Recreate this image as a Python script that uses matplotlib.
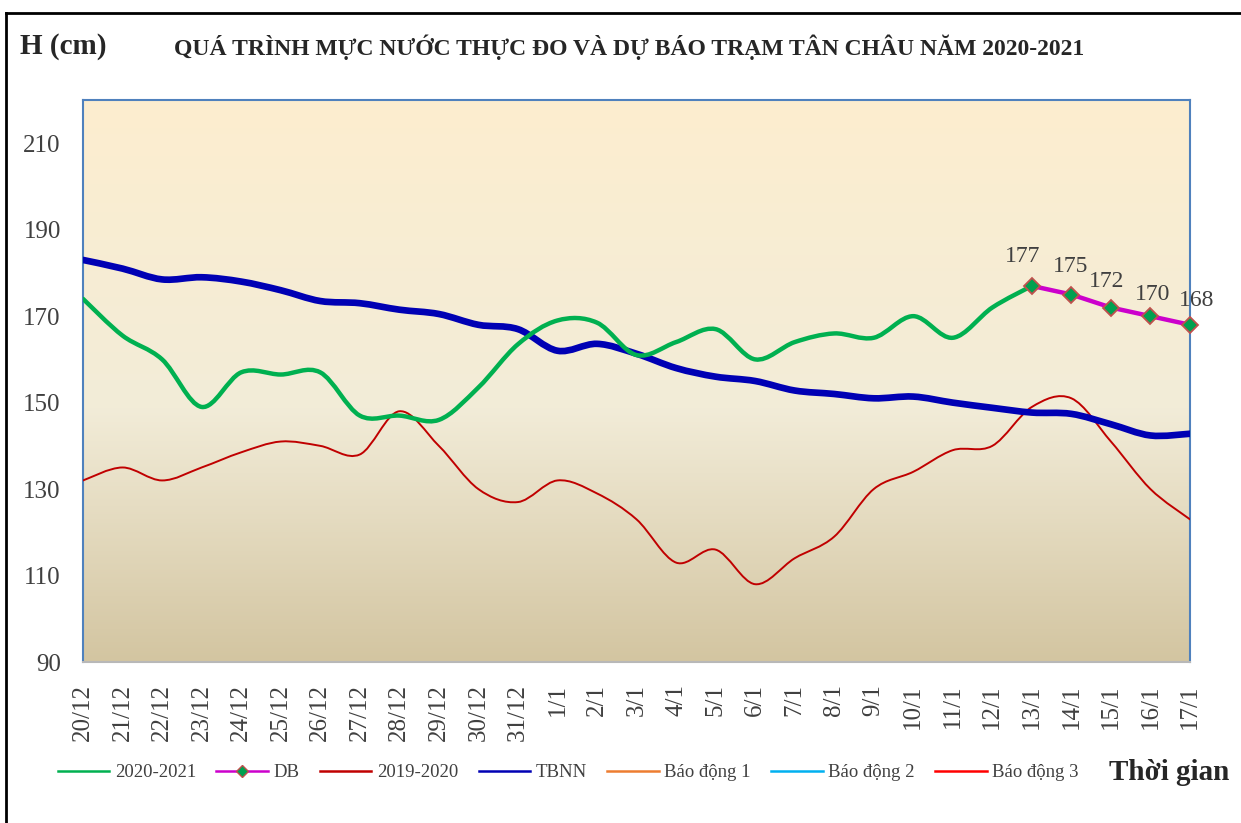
import numpy as np
import matplotlib

matplotlib.use("Agg")
import matplotlib.pyplot as plt
from matplotlib.path import Path
from matplotlib.patches import PathPatch
from matplotlib.lines import Line2D
from matplotlib.colors import LinearSegmentedColormap

plt.rcParams["font.family"] = ["Liberation Serif", "DejaVu Serif"]

DATES = ["20/12", "21/12", "22/12", "23/12", "24/12", "25/12", "26/12", "27/12",
         "28/12", "29/12", "30/12", "31/12", "1/1", "2/1", "3/1", "4/1", "5/1",
         "6/1", "7/1", "8/1", "9/1", "10/1", "11/1", "12/1", "13/1", "14/1",
         "15/1", "16/1", "17/1"]

# measured 2020-2021 (20/12 .. 13/1)
H_2021 = [174, 165.5, 160, 149, 157, 156.5, 157, 147, 147, 146, 153.5, 163.5, 169,
          168.5, 161, 164, 167, 160, 164, 166, 165, 170, 165, 172, 177]
# forecast 13/1 .. 17/1
DB = [177, 175, 172, 170, 168]
H_2020 = [132, 135, 132, 135, 138.5, 141, 140, 138, 148, 140, 130, 127, 132, 129,
          123, 113, 116, 108, 114, 119, 130, 134, 139, 140, 149, 151, 141, 130, 123]
TBNN = [183, 181, 178.5, 179, 178, 176, 173.5, 173, 171.5, 170.5, 168, 167, 162,
        163.6, 161.3, 158, 156, 155, 152.8, 152, 151, 151.4, 150, 148.8, 147.7,
        147.4, 145, 142.4, 142.8]
# alarm levels (off the visible range)
ALERTS = [350, 400, 450]
Y_TICKS = [90, 110, 130, 150, 170, 190, 210]


def smooth_path(xs, ys):
    """Excel-like smoothed line: cubic Bezier through every point."""
    pts = np.column_stack([xs, ys]).astype(float)
    n = len(pts)
    verts = [pts[0]]
    codes = [Path.MOVETO]
    for i in range(n - 1):
        p0 = pts[i - 1] if i > 0 else pts[i]
        p1, p2 = pts[i], pts[i + 1]
        p3 = pts[i + 2] if i + 2 < n else pts[i + 1]
        verts += [p1 + (p2 - p0) / 6, p2 - (p3 - p1) / 6, p2]
        codes += [Path.CURVE4] * 3
    return Path(verts, codes)


fig = plt.figure(figsize=(12.41, 8.23), dpi=100)
ax = fig.add_axes([0.0669, 0.1956, 0.892, 0.6829])

# parchment gradient background
cmap = LinearSegmentedColormap.from_list(
    "bg", [(0, "#FDEECF"), (0.55, "#F2ECD8"), (1, "#D3C5A1")])
ax.imshow(np.linspace(0, 1, 256).reshape(-1, 1), cmap=cmap, aspect="auto",
          extent=[0, 1, 0, 1], transform=ax.transAxes, zorder=0)

x = np.arange(len(DATES))
x_green = x[:len(H_2021)]
x_db = x[len(H_2021) - 1:]

for ys, xs, color, lw, z in [
    (H_2020, x, "#C00000", 1.4, 3),
    (TBNN, x, "#0000B4", 4.8, 4),
    (H_2021, x_green, "#00B050", 3.2, 5),
]:
    ax.add_patch(PathPatch(smooth_path(xs, ys), fill=False, edgecolor=color,
                           lw=lw, capstyle="round", joinstyle="round", zorder=z))

ax.plot(x_db, DB, color="#CC00CC", lw=3.2, marker="D", markersize=8,
        markerfacecolor="#00A050", markeredgecolor="#C0504D", markeredgewidth=1.3,
        zorder=6, clip_on=False)
offsets = [(-9, 29), (-1, 28), (-4, 26), (2, 22), (7, 24)]
for xi, v, off in zip(x_db, DB, offsets):
    ax.annotate(f"{v:g}", (xi, v), textcoords="offset pixels", xytext=off,
                ha="center", va="center", fontsize=17, color="#404040", zorder=7)

alert_colors = ["#ED7D31", "#00B0F0", "#FF0000"]
for lvl, c in zip(ALERTS, alert_colors):
    ax.axhline(lvl, color=c, lw=2)

ax.set_xlim(0, len(DATES) - 1)
ax.set_ylim(90, 220)
ax.set_yticks(Y_TICKS)
ax.set_xticks(x)
ax.set_xticklabels(DATES, rotation=90, va="top", ha="center")
ax.tick_params(axis="both", length=0, labelsize=18, labelcolor="#404040")
ax.tick_params(axis="y", pad=16)
ax.tick_params(axis="x", pad=16)
for s in ["left", "top", "right"]:
    ax.spines[s].set_color("#4F81BD")
    ax.spines[s].set_linewidth(1.5)
ax.spines["bottom"].set_color("#B8B8B8")
ax.spines["bottom"].set_linewidth(1.5)

# titles
fig.text(0.016, 0.943, "H (cm)", fontsize=21, fontweight="bold", color="#262626",
         va="center", ha="left")
fig.text(0.507, 0.943, "QUÁ TRÌNH MỰC NƯỚC THỰC ĐO VÀ DỰ BÁO TRẠM TÂN CHÂU NĂM 2020-2021",
         fontsize=17, fontweight="bold", color="#262626", va="center", ha="center")
fig.text(0.991, 0.061, "Thời gian", fontsize=21, fontweight="bold", color="#262626",
         va="center", ha="right")

# legend
handles = [
    Line2D([], [], color="#00B050", lw=1.8),
    Line2D([], [], color="#CC00CC", lw=1.8, marker="D", markersize=6,
           markerfacecolor="#00A050", markeredgecolor="#C0504D"),
    Line2D([], [], color="#C00000", lw=1.8),
    Line2D([], [], color="#0000B4", lw=1.8),
    Line2D([], [], color="#ED7D31", lw=1.8),
    Line2D([], [], color="#00B0F0", lw=1.8),
    Line2D([], [], color="#FF0000", lw=1.8),
]
labels = ["2020-2021", "DB", "2019-2020", "TBNN", "Báo động 1", "Báo động 2", "Báo động 3"]
leg = fig.legend(handles, labels, loc="center left", bbox_to_anchor=(0.0465, 0.061),
                 ncol=7, frameon=False, fontsize=13.5, handlelength=2.75,
                 columnspacing=1.08, handletextpad=0.3, borderpad=0, borderaxespad=0)
for t in leg.get_texts():
    t.set_color("#404040")

# outer frame (top and left only)
fig.add_artist(Line2D([0.005, 1.0], [0.984, 0.984], color="black", lw=2,
                      transform=fig.transFigure))
fig.add_artist(Line2D([0.005, 0.005], [0.0, 0.984], color="black", lw=2,
                      transform=fig.transFigure))

fig.savefig("out.png", dpi=100)
